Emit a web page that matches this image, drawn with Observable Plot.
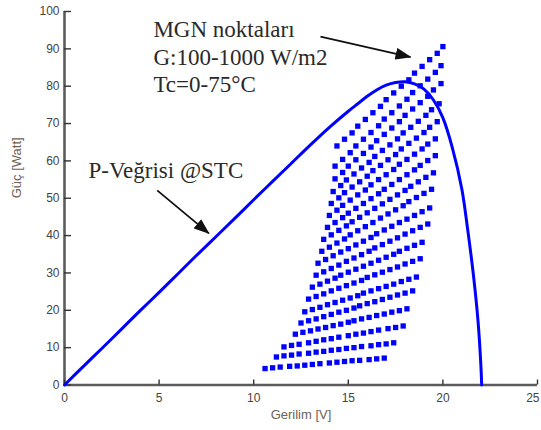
<!DOCTYPE html>
<html><head><meta charset="utf-8">
<script src="https://cdn.jsdelivr.net/npm/d3@7"></script>
<script src="https://cdn.jsdelivr.net/npm/@observablehq/plot@0.6"></script>
<style>
html,body{margin:0;padding:0;background:#fff;overflow:hidden;}
svg g[aria-label="x-axis tick label"], svg g[aria-label="y-axis tick label"]{fill:#444;}
</style>
</head><body><div id="chart"></div>
<script>
// ---- data ----
const xTicks = [0, 5, 10, 15, 20, 25];
const yTicks = [0, 10, 20, 30, 40, 50, 60, 70, 80, 90, 100];
const xLabel = "Gerilim [V]";
const yLabel = "Güç [Watt]";
const noteLines = ["MGN noktaları", "G:100-1000 W/m2", "Tc=0-75°C"];
const curveNote = "P-Veğrisi @STC";

// P-V curve at STC
const stcV = [0, 1, 2, 3, 4, 5, 6, 7, 8, 9, 10, 11, 12, 13, 14, 15, 15.5, 16, 16.5, 17, 17.5, 18, 18.5, 19, 19.5, 20, 20.5, 21, 21.3, 21.6, 21.85, 22.0, 22.05];
const stcP = [0, 5.0, 9.9, 14.9, 19.9, 24.8, 29.8, 34.8, 39.7, 44.6, 49.6, 54.5, 59.4, 64.3, 69.0, 73.3, 75.3, 77.3, 79.0, 80.3, 81.0, 81.2, 80.6, 79.2, 76.3, 71.5, 63.5, 52.5, 42.0, 30.0, 17.5, 6.0, 0];

// MPP points: rows = irradiance G, columns = cell temperature Tc (75 -> 0 °C)
const gLevels = [100, 150, 200, 250, 300, 350, 400, 450, 500, 550, 600, 650, 700, 750, 800, 850, 900, 950, 1000];
const tcLevels = [75, 70, 65, 60, 55, 50, 45, 40, 35, 30, 25, 20, 15, 10, 5, 0];
const mppV = [
  [10.6,11.0,11.4,11.9,12.3,12.7,13.1,13.5,14.0,14.4,14.8,15.2,15.6,16.1,16.5,16.9],
  [11.2,11.6,12.0,12.4,12.9,13.3,13.7,14.1,14.5,14.9,15.3,15.7,16.2,16.6,17.0,17.4],
  [11.6,12.0,12.4,12.9,13.3,13.7,14.1,14.5,15.0,15.4,15.8,16.2,16.6,17.1,17.5,17.9],
  [12.2,12.6,13.0,13.4,13.8,14.2,14.6,15.0,15.3,15.7,16.1,16.5,16.9,17.3,17.7,18.1],
  [12.5,12.9,13.3,13.7,14.1,14.5,14.9,15.3,15.6,16.0,16.4,16.8,17.2,17.6,18.0,18.4],
  [12.7,13.1,13.5,13.9,14.3,14.7,15.1,15.5,15.8,16.2,16.6,17.0,17.4,17.8,18.2,18.6],
  [12.9,13.3,13.7,14.1,14.5,14.9,15.3,15.7,16.0,16.4,16.8,17.2,17.6,18.0,18.4,18.8],
  [13.1,13.5,13.9,14.3,14.6,15.0,15.4,15.8,16.2,16.6,17.0,17.4,17.7,18.1,18.5,18.9],
  [13.3,13.7,14.1,14.5,14.9,15.3,15.7,16.1,16.4,16.8,17.2,17.6,18.0,18.4,18.8,19.2],
  [13.4,13.8,14.2,14.6,15.0,15.4,15.8,16.2,16.5,16.9,17.3,17.7,18.1,18.5,18.9,19.3],
  [13.6,14.0,14.4,14.8,15.1,15.5,15.9,16.3,16.7,17.1,17.5,17.9,18.2,18.6,19.0,19.4],
  [13.7,14.1,14.5,14.9,15.2,15.6,16.0,16.4,16.8,17.2,17.6,18.0,18.3,18.7,19.1,19.5],
  [13.9,14.3,14.7,15.0,15.4,15.8,16.2,16.6,16.9,17.3,17.7,18.1,18.5,18.8,19.2,19.6],
  [14.0,14.4,14.7,15.1,15.5,15.9,16.2,16.6,17.0,17.4,17.7,18.1,18.5,18.9,19.2,19.6],
  [14.1,14.5,14.8,15.2,15.6,16.0,16.3,16.7,17.1,17.5,17.8,18.2,18.6,19.0,19.3,19.7],
  [14.2,14.6,14.9,15.3,15.7,16.1,16.4,16.8,17.2,17.6,17.9,18.3,18.7,19.1,19.4,19.8],
  [14.3,14.7,15.0,15.4,15.8,16.2,16.5,16.9,17.3,17.7,18.0,18.4,18.8,19.2,19.5,19.9],
  [14.3,14.7,15.1,15.4,15.8,16.2,16.6,16.9,17.3,17.7,18.1,18.4,18.8,19.2,19.6,19.9],
  [14.4,14.8,15.2,15.5,15.9,16.3,16.7,17.0,17.4,17.8,18.2,18.5,18.9,19.3,19.7,20.0]
];
const mppP = [
  [4.4,4.6,4.8,5.0,5.1,5.3,5.5,5.7,5.9,6.1,6.3,6.5,6.6,6.8,7.0,7.2],
  [7.5,7.8,8.0,8.3,8.5,8.8,9.0,9.3,9.5,9.8,10.0,10.3,10.5,10.8,11.0,11.3],
  [10.2,10.6,10.9,11.3,11.7,12.1,12.4,12.8,13.2,13.6,13.9,14.3,14.7,15.1,15.4,15.8],
  [13.6,14.1,14.5,15.0,15.4,15.9,16.3,16.8,17.2,17.7,18.1,18.6,19.0,19.5,19.9,20.4],
  [16.6,17.2,17.7,18.3,18.9,19.5,20.0,20.6,21.2,21.8,22.3,22.9,23.5,24.1,24.6,25.2],
  [19.6,20.2,20.8,21.5,22.1,22.7,23.3,23.9,24.6,25.2,25.8,26.4,27.0,27.7,28.3,28.9],
  [23.0,23.7,24.4,25.2,25.9,26.6,27.3,28.0,28.8,29.5,30.2,30.9,31.6,32.4,33.1,33.8],
  [26.2,27.0,27.8,28.6,29.4,30.2,31.0,31.8,32.6,33.4,34.2,35.0,35.8,36.6,37.4,38.2],
  [29.4,30.3,31.2,32.1,33.1,34.0,34.9,35.8,36.7,37.6,38.5,39.4,40.4,41.3,42.2,43.1],
  [32.6,33.6,34.6,35.6,36.5,37.5,38.5,39.5,40.5,41.5,42.5,43.5,44.4,45.4,46.4,47.4],
  [35.8,36.9,38.0,39.1,40.2,41.3,42.4,43.5,44.7,45.8,46.9,48.0,49.1,50.2,51.3,52.4],
  [39.0,40.2,41.4,42.6,43.7,44.9,46.1,47.3,48.5,49.7,50.9,52.1,53.2,54.4,55.6,56.8],
  [42.2,43.5,44.8,46.0,47.3,48.6,49.9,51.2,52.4,53.7,55.0,56.3,57.6,58.8,60.1,61.4],
  [45.4,46.8,48.1,49.5,50.9,52.2,53.6,55.0,56.3,57.7,59.1,60.4,61.8,63.2,64.5,65.9],
  [48.6,50.1,51.5,53.0,54.4,55.9,57.4,58.8,60.3,61.7,63.2,64.7,66.1,67.6,69.0,70.5],
  [51.8,53.4,54.9,56.5,58.1,59.6,61.2,62.8,64.3,65.9,67.5,69.0,70.6,72.2,73.7,75.3],
  [55.2,56.9,58.6,60.3,62.0,63.7,65.4,67.1,68.8,70.5,72.2,73.9,75.6,77.3,79.0,80.7],
  [58.6,60.4,62.2,64.0,65.8,67.6,69.4,71.2,72.9,74.7,76.5,78.3,80.1,81.9,83.7,85.5],
  [64.0,65.8,67.5,69.3,71.1,72.9,74.6,76.4,78.2,80.0,81.7,83.5,85.3,87.1,88.8,90.6]
];

// annotation arrows (start -> tip, in data units)
const arrowFromV = [13.53, 4.90];
const arrowFromP = [93.3, 52.1];
const arrowToV = [18.29, 7.63];
const arrowToP = [87.8, 40.6];

// ---- tables built from the arrays ----
const stc = stcV.map((v, i) => ({V: v, P: stcP[i]}));
const mpp = [];
gLevels.forEach((g, i) => tcLevels.forEach((t, j) => mpp.push({G: g, Tc: t, V: mppV[i][j], P: mppP[i][j]})));
const arrows = arrowFromV.map((v, i) => ({x1: v, y1: arrowFromP[i], x2: arrowToV[i], y2: arrowToP[i]}));

const serif = "'Liberation Serif', 'Times New Roman', serif";
const sans = "'Liberation Sans', Arial, sans-serif";

const chart = Plot.plot({
  width: 541, height: 430,
  marginLeft: 64, marginRight: 4, marginTop: 11, marginBottom: 45.5,
  style: {background: "#fff", fontFamily: sans, overflow: "visible"},
  x: {domain: [0, 25]},
  y: {domain: [0, 100]},
  marks: [
    Plot.ruleX([0], {stroke: "#5c5c5c", strokeWidth: 2.6}),
    Plot.ruleY([0], {stroke: "#5c5c5c", strokeWidth: 2.6}),
    // inward tick marks (outward ticks shifted across the axis line)
    Plot.axisX(xTicks, {tickSize: 5, dy: -5, text: null, stroke: "#333", strokeWidth: 1.4, label: null}),
    Plot.axisY(yTicks, {tickSize: 7, dx: 7, text: null, stroke: "#333", strokeWidth: 1.4, label: null}),
    // tick labels
    Plot.axisX(xTicks, {tickSize: 0, tickPadding: 8.5, fontSize: 12, label: null}),
    Plot.axisY(yTicks, {tickSize: 0, tickPadding: 5, fontSize: 12, label: null}),
    Plot.line(stc, {x: "V", y: "P", stroke: "#0000ff", strokeWidth: 3, curve: "catmull-rom"}),
    Plot.dot(mpp, {x: "V", y: "P", symbol: "square", r: 3, fill: "#0000ff", stroke: "none"}),
    Plot.link(arrows, {x1: "x1", y1: "y1", x2: "x2", y2: "y2", stroke: "#111", strokeWidth: 1.8}),
    Plot.text([noteLines.join("\n")], {x: 4.7, y: 98.4, textAnchor: "start", lineAnchor: "top", lineHeight: 1.2, fontSize: 23, fontFamily: serif, fill: "#2a2a2a"}),
    Plot.text([curveNote], {x: 1.27, y: 59.9, textAnchor: "start", lineAnchor: "top", fontSize: 23, fontFamily: serif, fill: "#2a2a2a"}),
    Plot.text([xLabel], {frameAnchor: "bottom", dy: 33.5, fontSize: 13, fill: "#6e6256"}),
    Plot.text([yLabel], {frameAnchor: "left", dx: -48, rotate: -90, fontSize: 13, fill: "#6e6256"})
  ]
});

const svg = d3.select(chart);
const defs = svg.append("defs");
defs.append("marker")
  .attr("id", "ah").attr("viewBox", "0 0 16 12").attr("refX", 15).attr("refY", 6)
  .attr("markerWidth", 16).attr("markerHeight", 12).attr("markerUnits", "userSpaceOnUse")
  .attr("orient", "auto")
  .append("path").attr("d", "M0,0L16,6L0,12Z").attr("fill", "#111");
svg.selectAll('g[aria-label="link"] path').attr("marker-end", "url(#ah)");
// keep the last x tick label ("25") inside the picture's right edge
const xLabels = svg.selectAll('g[aria-label="x-axis tick label"] text').nodes();
if (xLabels.length) d3.select(xLabels[xLabels.length - 1]).attr("text-anchor", "end").attr("dx", 2);

document.getElementById("chart").appendChild(chart);
</script>
</body></html>
